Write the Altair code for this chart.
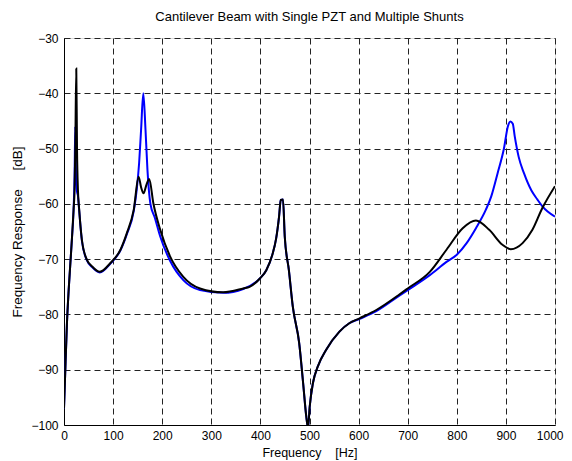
import altair as alt
import pandas as pd

# Black curve (frequency in Hz, response in dB)
black_f = [0, 2, 6, 9.5, 13, 16, 19.5, 21.5, 23, 25, 26.5, 28.4, 31, 36.4, 46.5, 57, 72.8,
           94.5, 115, 128, 142, 152, 157, 162, 168, 173.6, 182, 196, 216, 243, 277, 324,
           365, 378, 399, 412, 424, 432, 438, 441.5, 446, 449.6, 458, 466, 479, 487, 493.5,
           497, 500.4, 507, 517, 534, 561, 581, 602, 636, 683, 700, 745, 779, 812, 839,
           866, 893, 910, 934, 954, 974, 1000]
black_db = [-97, -91.8, -81.6, -75.6, -70.7, -66.5, -61.1, -57.5, -50, -35.5, -50, -57.5,
            -61.1, -66.5, -70.1, -71.3, -72.3, -70.7, -68.3, -65.3, -61.1, -55.1, -57,
            -58.1, -56.5, -55.5, -59.9, -64.7, -69.5, -73.2, -75.3, -76.0, -75.3, -75.0,
            -73.5, -72.0, -69.3, -66.3, -62.3, -59.3, -59.2, -65.9, -72, -78.6, -85.2,
            -92.4, -98.5, -100.5, -96.7, -92.4, -89.4, -86.4, -83.1, -81.6, -80.7, -79.2,
            -76.4, -75.3, -72.3, -68.3, -64.4, -63.0, -64.7, -67.4, -68.2, -67.1, -64.7,
            -60.8, -56.8]

# Blue curve
blue_f = [0, 2, 6, 9.5, 13, 16, 19.5, 21.5, 23, 24.5, 26.5, 28.4, 31, 36.4, 46.5, 57, 72.8,
          94.5, 115, 128, 142, 148, 153, 157, 161.5, 166, 170, 176, 185, 196, 216, 243,
          277, 324, 365, 399, 412, 424, 432, 438, 441.5, 446, 449.6, 458, 466, 479, 487,
          493.5, 497, 500.4, 507, 517, 534, 561, 581, 602, 636, 683, 700, 745, 779, 800,
          820, 839, 859, 870, 883, 896, 904, 909, 914, 918, 926, 937, 952, 964, 974, 985, 1000]
blue_db = [-97, -91.8, -81.6, -75.6, -70.7, -66.5, -61.1, -55, -46, -55, -57.8, -58.5,
           -61.3, -66.6, -70.2, -71.4, -72.4, -70.8, -68.4, -65.5, -61.3, -57.5, -52.6,
           -46.6, -40, -46.6, -53.9, -60, -62.5, -65.9, -70.3, -73.8, -75.6, -76.1, -75.4,
           -73.5, -72.0, -69.3, -66.3, -62.3, -59.3, -59.2, -65.9, -72, -78.6, -85.2,
           -92.4, -98.5, -100.5, -96.7, -92.4, -89.4, -86.4, -83.1, -81.6, -80.8, -79.4,
           -76.6, -75.6, -72.9, -70.5, -69.2, -67.1, -64.4, -61.1, -58.7, -54.5, -50,
           -46.0, -45.1, -45.5, -47.8, -51.5, -54.5, -57.6, -59.2, -60.4, -61.4, -62.3]

x_ticks = [0, 100, 200, 300, 400, 500, 600, 700, 800, 900, 1000]
y_ticks = [-100, -90, -80, -70, -60, -50, -40, -30]

df_black = pd.DataFrame({"f": black_f, "db": black_db})
df_blue = pd.DataFrame({"f": blue_f, "db": blue_db})

FONT = "Liberation Sans"
NB = "\u00a0"

xenc = alt.X("f:Q", scale=alt.Scale(domain=[0, 1000], nice=False),
             axis=alt.Axis(values=x_ticks, format="d",
                           title="Frequency" + NB * 4 + "[Hz]", grid=True,
                           gridDash=[6, 4], gridColor="#222222", gridOpacity=1,
                           ticks=False, labelPadding=5, titlePadding=5,
                           labelFont=FONT, titleFont=FONT, labelFontSize=12,
                           labelAlign={"condition": {"test": "datum.value == 1000",
                                                     "value": "right"},
                                       "value": "center"},
                           labelOffset={"condition": {"test": "datum.value == 1000",
                                                      "value": 8},
                                        "value": 0},
                           titleFontSize=12.5, titleFontWeight="normal",
                           labelColor="black", titleColor="black",
                           domainColor="black", labelFlush=False))
yenc = alt.Y("db:Q", scale=alt.Scale(domain=[-100, -30], nice=False),
             axis=alt.Axis(values=y_ticks, format="d",
                           title="Frequency Response" + NB * 5 + "[dB]", grid=True,
                           gridDash=[6, 4], gridColor="#222222", gridOpacity=1,
                           ticks=False, labelPadding=6, titlePadding=6,
                           labelFont=FONT, titleFont=FONT, labelFontSize=12,
                           titleFontSize=13.5, titleFontWeight="normal",
                           labelColor="black", titleColor="black",
                           domainColor="black", labelFlush=False))

blue = alt.Chart(df_blue).mark_line(color="#0000ff", strokeWidth=2, clip=True,
                                    interpolate="monotone").encode(
    x=xenc, y=yenc, order="f:Q")
black = alt.Chart(df_black).mark_line(color="black", strokeWidth=2, clip=True,
                                      interpolate="monotone").encode(
    x="f:Q", y="db:Q", order="f:Q")

chart = alt.layer(blue, black).properties(
    width=491, height=387,
    title=alt.TitleParams("Cantilever Beam with Single PZT and Multiple Shunts",
                          font=FONT, fontSize=13, fontWeight="normal", color="black",
                          offset=8),
    autosize=alt.AutoSizeParams(type="none"),
    padding={"left": 56, "top": 30, "right": 9, "bottom": 36},
).configure_view(stroke="black", strokeWidth=1).configure(background="white")

chart.save("out.html", embed_options={"renderer": "svg", "actions": False})
